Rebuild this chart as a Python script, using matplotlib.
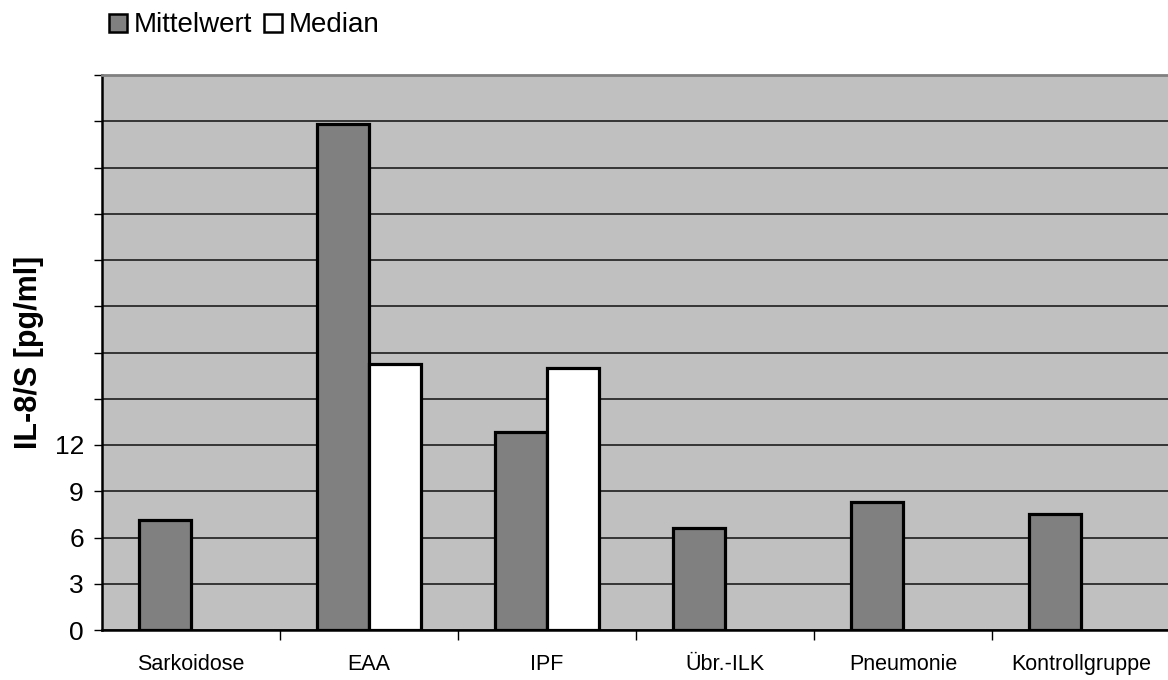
import matplotlib
matplotlib.use("Agg")
import matplotlib.pyplot as plt
from matplotlib.patches import Patch
import numpy as np

# IL-8 levels per patient group
categories = ["Sarkoidose", "EAA", "IPF", "Übr.-ILK", "Pneumonie", "Kontrollgruppe"]
mittelwert = [7.15, 32.8, 12.85, 6.6, 8.3, 7.55]
median = [None, 17.25, 17.0, None, None, None]
ytick_values = list(range(0, 37, 3))
ytick_labels = ["0", "3", "6", "9", "12"] + [""] * 8

plt.rcParams["font.family"] = ["Liberation Sans", "DejaVu Sans"]

W, H = 1168, 680
fig = plt.figure(figsize=(W / 100, H / 100), dpi=100)
ax = fig.add_axes([102 / W, 50 / H, (1170 - 102) / W, (630 - 75) / H])
ax.set_facecolor("#C0C0C0")

x = np.arange(len(categories))
bw = 0.29
ax.bar(x - bw / 2, mittelwert, width=bw, color="#808080", edgecolor="black",
       linewidth=2.3, zorder=3)
med_x = [xi + bw / 2 for xi, m in zip(x, median) if m is not None]
med_v = [m for m in median if m is not None]
ax.bar(med_x, med_v, width=bw, color="white", edgecolor="black",
       linewidth=2.3, zorder=3)

ax.set_xlim(-0.5, len(categories) - 0.5)
ax.set_ylim(0, 36)

# y axis
ax.set_yticks(ytick_values)
ax.set_yticklabels(ytick_labels, fontsize=19)
ax.tick_params(axis="y", direction="out", length=6, width=1, pad=7, color="black")
ax.grid(axis="y", color="#2a2a2a", linewidth=1.3, zorder=1)

# x axis: ticks between groups, labels at group centres
ax.set_xticks(np.arange(0.5, len(categories) - 0.5, 1.0))
ax.set_xticklabels([])
ax.tick_params(axis="x", which="major", direction="out", length=7, width=1, color="black")
ax.set_xticks(x, minor=True)
ax.set_xticklabels(categories, minor=True, fontsize=15.5)
ax.tick_params(axis="x", which="minor", length=0, pad=17)

for side in ("left", "bottom"):
    ax.spines[side].set_color("black")
    ax.spines[side].set_linewidth(1.8)
ax.spines["top"].set_color("#808080")
ax.spines["top"].set_linewidth(2.0)
ax.spines["right"].set_visible(False)

fig.text(29 / W, 1 - 352 / H, "IL-8/S [pg/ml]", rotation=90, ha="center",
         va="center", fontsize=22, fontweight="bold")

handles = [Patch(facecolor="#808080", edgecolor="black", linewidth=1.8),
           Patch(facecolor="white", edgecolor="black", linewidth=1.8)]
fig.legend(handles, ["Mittelwert", "Median"], loc="upper left",
           bbox_to_anchor=(101 / W, 1 - 4 / H), ncol=2, frameon=False,
           fontsize=20, handlelength=0.62, handleheight=0.62,
           handletextpad=0.25, columnspacing=0.45, borderaxespad=0,
           borderpad=0.3)

fig.savefig("out.png", dpi=100)
